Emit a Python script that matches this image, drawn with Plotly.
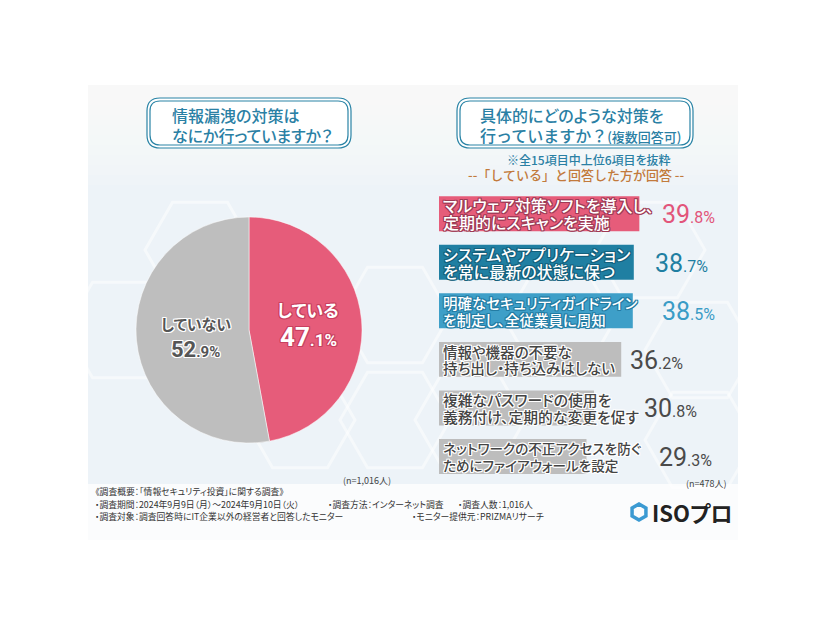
import math
import plotly.graph_objects as go

W, H = 826, 620

# ---------------- data ----------------
pie_labels = ["している", "していない"]
pie_values = [47.1, 52.9]

bar_keys = ["malware", "update", "guideline", "carry", "password", "firewall"]
bar_line1 = ["マルウェア対策ソフトを導入し、", "システムやアプリケーション", "明確なセキュリティガイドライン",
             "情報や機器の不要な", "複雑なパスワードの使用を", "ネットワークの不正アクセスを防ぐ"]
bar_line2 = ["定期的にスキャンを実施", "を常に最新の状態に保つ", "を制定し、全従業員に周知",
             "持ち出し・持ち込みはしない", "義務付け、定期的な変更を促す", "ためにファイアウォールを設定"]
bar_values = [39.8, 38.7, 38.5, 36.2, 30.8, 29.3]

# ---------------- styles ----------------
PINK = "#E65C7A"
GRAY_PIE = "#BEBEBE"
bar_colors = ["#E65C7A", "#1F7FA2", "#3E9FC8", "#BDBDBD", "#BDBDBD", "#BDBDBD"]
val_colors = ["#E2557A", "#1F7FA2", "#3A9CC6", "#4A4A4A", "#4A4A4A", "#4A4A4A"]
label_sizes = [16, 16, 14.5, 14.5, 14.8, 13.6]
value_gap_px = [21, 19, 27, 7, 48, 71]
TEAL = "#2A84A6"
JP = "Noto Sans CJK JP"


def P(t):
    return f"<span style=\"font-feature-settings:'palt'\">{t}</span>"


def X(px):
    return px / W


def Y(py):
    return 1 - py / H


def outline(c, w=1):
    return ", ".join(f"{dx}px {dy}px 0 {c}" for dx, dy in
                     [(w, 0), (-w, 0), (0, w), (0, -w), (w, w), (-w, -w), (w, -w), (-w, w)])


def rounded_rect(x0, y0, x1, y1, r):
    p = [f"M {X(x0 + r)} {Y(y0)}", f"L {X(x1 - r)} {Y(y0)}", f"Q {X(x1)} {Y(y0)} {X(x1)} {Y(y0 + r)}",
         f"L {X(x1)} {Y(y1 - r)}", f"Q {X(x1)} {Y(y1)} {X(x1 - r)} {Y(y1)}",
         f"L {X(x0 + r)} {Y(y1)}", f"Q {X(x0)} {Y(y1)} {X(x0)} {Y(y1 - r)}",
         f"L {X(x0)} {Y(y0 + r)}", f"Q {X(x0)} {Y(y0)} {X(x0 + r)} {Y(y0)}", "Z"]
    return " ".join(p)


def hexagon(cx, cy, r, rot=0):
    pts = []
    for k in range(6):
        a = math.radians(60 * k + rot)
        pts.append((cx + r * math.cos(a), cy + r * math.sin(a)))
    return "M " + " L ".join(f"{X(px)} {Y(py)}" for px, py in pts) + " Z"


fig = go.Figure()

# pie
fig.add_trace(go.Pie(
    labels=pie_labels, values=pie_values, sort=False, direction="clockwise", rotation=0,
    marker=dict(colors=[PINK, GRAY_PIE], line=dict(color="white", width=0.5)),
    textinfo="none", hoverinfo="skip", showlegend=False,
    domain=dict(x=[X(136), X(362)], y=[Y(443), Y(217)]),
))

# bars
fig.add_trace(go.Bar(
    y=bar_keys, x=bar_values, orientation="h", width=0.72,
    marker=dict(color=bar_colors, line=dict(width=0)),
    hoverinfo="skip", showlegend=False, xaxis="x", yaxis="y",
))

shapes = []
# background card
shapes.append(dict(type="rect", xref="paper", yref="paper", x0=X(88), x1=X(738), y0=Y(540), y1=Y(85),
                   fillcolor="#EDF3F8", line=dict(width=0), layer="below"))
# top fade to white
for i in range(10):
    shapes.append(dict(type="rect", xref="paper", yref="paper", x0=X(88), x1=X(738),
                       y0=Y(85 + (i + 1) * 10), y1=Y(85), fillcolor="white",
                       opacity=0.12, line=dict(width=0), layer="below"))
# bottom footer area white
shapes.append(dict(type="rect", xref="paper", yref="paper", x0=X(88), x1=X(738), y0=Y(540), y1=Y(484),
                   fillcolor="#FBFCFD", line=dict(width=0), layer="below"))
# hexagons decoration
for cx, cy in [(120, 330), (200, 250), (395, 315), (395, 420), (300, 420), (560, 320), (700, 350), (650, 250),
               (470, 420), (700, 440)]:
    shapes.append(dict(type="path", xref="paper", yref="paper", path=hexagon(cx, cy, 55),
                       line=dict(color="white", width=3), opacity=0.5, layer="below"))
# title boxes (double rounded borders)
for (x0, x1) in [(147, 351), (457, 693)]:
    shapes.append(dict(type="path", xref="paper", yref="paper", path=rounded_rect(x0, 98, x1, 148, 13),
                       line=dict(color=TEAL, width=1.2), fillcolor="white"))
    shapes.append(dict(type="path", xref="paper", yref="paper",
                       path=rounded_rect(x0 + 3, 101, x1 - 3, 145, 10),
                       line=dict(color=TEAL, width=1.2)))
# logo hexagon
shapes.append(dict(type="path", xref="paper", yref="paper", path=hexagon(639, 512, 8, 30),
                   line=dict(color="#3B9AD2", width=3.5)))

ann = []


def add(text, x, y, size, color, xanchor="left", font=JP, weight="normal", shadow="none", palt=True, **kw):
    ann.append(dict(text=P(text) if palt else text, x=X(x), y=Y(y), xref="paper", yref="paper",
                    xanchor=xanchor, yanchor="middle", showarrow=False,
                    font=dict(family=font, size=size, color=color, weight=weight, shadow=shadow), **kw))


# titles
add("情報漏洩の対策は", 170, 115, 16, "#2A80A4", weight=500)
add("なにか行っていますか？", 170, 135, 16, "#2A80A4", weight=500)
add("具体的にどのような対策を", 478, 115, 16, "#2A80A4", weight=500)
add("行っていますか？<span style='font-size:13px'>(複数回答可)</span>", 478, 135, 16, "#2A80A4",
    weight=500, palt=False)
add("※全15項目中上位6項目を抜粋", 589, 159, 12, "#2A80A4", xanchor="center", weight=500)
add("--「している」と回答した方が回答 --", 576, 174, 13, "#C27A3C", xanchor="center", weight=500,
    palt=False)

# pie labels
add("している", 308, 309, 17, "white", xanchor="center", weight="bold", shadow=outline("#C8405F"))
add("47<span style='font-size:17px'>.1%</span>", 308, 337, 26, "white", xanchor="center",
    font="Roboto", weight="bold", shadow=outline("#C8405F"), palt=False)
add("していない", 196, 323, 15, "#555555", xanchor="center", weight="bold", shadow=outline("white"))
add("52<span style='font-size:15px'>.9%</span>", 195, 349, 22, "#555555", xanchor="center",
    font="Roboto", weight="bold", shadow=outline("white"), palt=False)

# n labels
add("(n=1,016人)", 393, 480, 9, "#444444", xanchor="right")
add("(n=478人)", 729, 483, 9, "#444444", xanchor="right")

# bar labels and values
for i, k in enumerate(bar_keys):
    colored = i < 3
    tc = "white" if colored else "#444444"
    sh = outline("#9E3A55" if i == 0 else "#14607C", 1) if colored else outline("white", 1)
    if i == 2:
        sh = outline("#237CA3", 1)
    for txt, ys in [(bar_line1[i], 8.3), (bar_line2[i], -8.3)]:
        ann.append(dict(text=P(txt), x=0, y=k, xref="x", yref="y", xanchor="left", yanchor="middle",
                        xshift=2, yshift=ys, showarrow=False,
                        font=dict(family=JP, size=label_sizes[i], color=tc, weight=500, shadow=sh)))
    v = bar_values[i]
    s = f"{v:.1f}"
    a, b = s.split(".")
    ann.append(dict(text=f"{a}<span style='font-size:16px'>.{b}%</span>", x=v, y=k, xref="x", yref="y",
                    xanchor="left", yanchor="middle", xshift=value_gap_px[i], yshift=-1, showarrow=False,
                    font=dict(family="Roboto", size=25, color=val_colors[i])))

# footer
fc = "#333333"
add("《調査概要：「情報セキュリティ投資」に関する調査》", 93, 491, 8.8, fc)
add("・調査期間：2024年9月9日（月）～2024年9月10日（火）", 93, 504, 8.8, fc)
add("・調査方法：インターネット調査", 326, 504, 8.8, fc)
add("・調査人数：1,016人", 456, 504, 8.8, fc)
add("・調査対象：調査回答時にIT企業以外の経営者と回答したモニター", 93, 516, 8.8, fc)
add("・モニター提供元：PRIZMAリサーチ", 410, 516, 8.8, fc)
add("ISOプロ", 650, 512, 22, "#222222", weight="bold")

fig.update_layout(
    width=W, height=H, margin=dict(l=0, r=0, t=0, b=0),
    paper_bgcolor="white", plot_bgcolor="rgba(0,0,0,0)",
    shapes=shapes, annotations=ann, showlegend=False,
    xaxis=dict(domain=[X(439), X(738)], range=[0, 59.4], visible=False, fixedrange=True),
    yaxis=dict(domain=[Y(480.8), Y(189.4)], categoryorder="array", categoryarray=bar_keys,
               autorange="reversed", visible=False, fixedrange=True),
)

fig.write_html("out.html")
